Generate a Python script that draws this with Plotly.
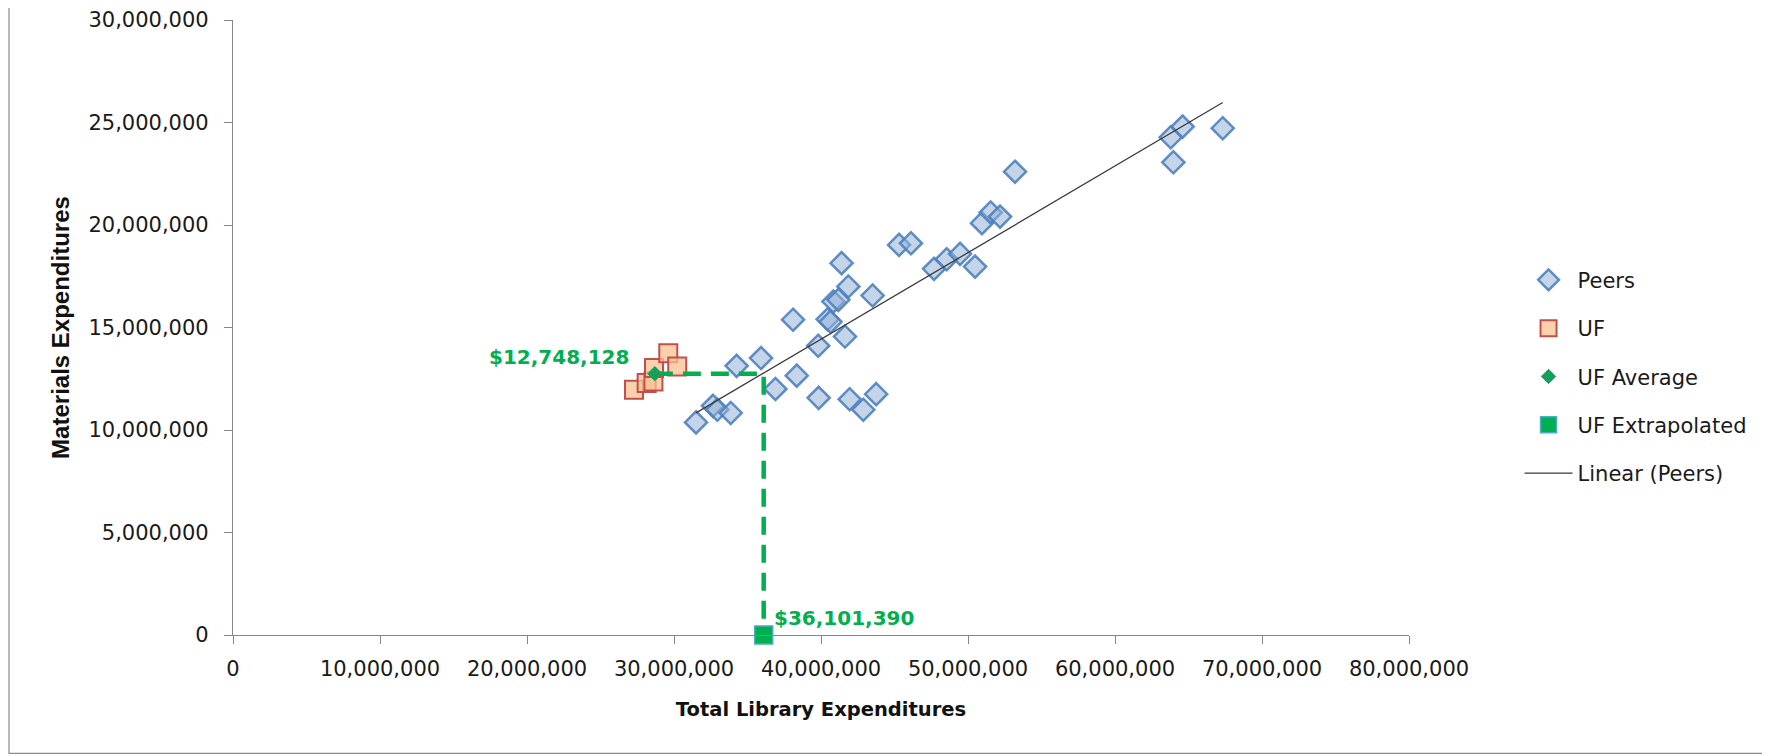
import numpy as np
import plotly.graph_objects as go

# ---- data ----
peers_total = [31.50e6, 32.65e6, 32.95e6, 33.86e6, 34.26e6, 35.92e6, 36.90e6, 38.35e6, 38.10e6,
               39.81e6, 39.84e6, 40.45e6, 40.65e6, 41.63e6, 41.95e6, 42.88e6, 43.75e6, 40.84e6,
               41.18e6, 41.86e6, 41.40e6, 43.51e6, 45.31e6, 46.12e6, 47.69e6, 48.55e6, 49.46e6,
               50.48e6, 50.95e6, 51.54e6, 52.18e6, 53.20e6, 63.79e6, 63.97e6, 64.60e6, 67.33e6]
peers_materials = [10.37e6, 11.18e6, 10.99e6, 10.83e6, 13.13e6, 13.51e6, 12.00e6, 12.65e6, 15.38e6,
                   14.11e6, 11.57e6, 15.40e6, 15.28e6, 14.56e6, 11.50e6, 10.99e6, 11.75e6, 16.27e6,
                   16.35e6, 17.00e6, 18.14e6, 16.56e6, 19.03e6, 19.11e6, 17.86e6, 18.33e6, 18.59e6,
                   17.97e6, 20.09e6, 20.61e6, 20.41e6, 22.60e6, 24.28e6, 23.06e6, 24.80e6, 24.72e6]
uf_total = [27.28e6, 28.14e6, 28.60e6, 28.64e6, 29.61e6, 30.22e6]
uf_materials = [11.96e6, 12.29e6, 12.37e6, 13.02e6, 13.75e6, 13.10e6]
uf_avg_total = [28.70e6]
uf_avg_materials = [12748128]
uf_extrap_total = [36101390]
uf_extrap_materials = [0]

x_ticks = [0, 10e6, 20e6, 30e6, 40e6, 50e6, 60e6, 70e6, 80e6]
y_ticks = [0, 5e6, 10e6, 15e6, 20e6, 25e6, 30e6]

# ---- trend line (least squares on peers) ----
slope, intercept = np.polyfit(peers_total, peers_materials, 1)
trend_x = [min(peers_total), max(peers_total)]
trend_y = [slope * v + intercept for v in trend_x]

GREEN = "#00B050"
FONT = "DejaVu Sans"

W, H = 1762, 748
L, T, PW, PH = 225, 12, 1176, 615.5
R, B = W - L - PW, H - T - PH

def px(xf):
    return (xf - L) / PW

def py(yf):
    return (T + PH - yf) / PH

fig = go.Figure()

fig.add_trace(go.Scatter(
    x=peers_total, y=peers_materials, mode="markers", name="Peers",
    legendgroup="a",
    marker=dict(symbol="diamond", size=17, color="rgba(149,179,215,0.55)",
                line=dict(color="rgba(79,129,189,0.9)", width=2.5)),
))
fig.add_trace(go.Scatter(
    x=uf_total, y=uf_materials, mode="markers", name="UF",
    legendgroup="b",
    marker=dict(symbol="square", size=18, color="rgba(250,192,144,0.75)",
                line=dict(color="#C0504D", width=2)),
))
# dashed guide lines
fig.add_trace(go.Scatter(
    x=[uf_avg_total[0], uf_extrap_total[0], uf_extrap_total[0]],
    y=[uf_avg_materials[0], uf_avg_materials[0], uf_extrap_materials[0]],
    mode="lines", showlegend=False, hoverinfo="skip",
    line=dict(color=GREEN, width=4.5, dash="18px,10px"),
))
fig.add_trace(go.Scatter(
    x=uf_avg_total, y=uf_avg_materials, mode="markers", name="UF Average",
    legendgroup="c",
    marker=dict(symbol="diamond", size=11, color="#15A05A",
                line=dict(color="#15A05A", width=1)),
))
fig.add_trace(go.Scatter(
    x=uf_extrap_total, y=uf_extrap_materials, mode="markers", name="UF Extrapolated",
    legendgroup="d", cliponaxis=False,
    marker=dict(symbol="square", size=18, color=GREEN,
                line=dict(color="#4BACC6", width=1.5)),
))
fig.add_trace(go.Scatter(
    x=trend_x, y=trend_y, mode="lines", name="Linear (Peers)",
    legendgroup="e",
    line=dict(color="#3a3a3a", width=1.3),
))

axis_common = dict(
    showline=True, linecolor="#868686", linewidth=1.2, automargin=False,
    ticks="outside", ticklen=8, tickcolor="#868686", tickwidth=1.2,
    showgrid=False, zeroline=False, tickformat=",d",
    tickfont=dict(family=FONT, size=21, color="#1a1a1a"),
)

fig.update_layout(
    width=W, height=H,
    margin=dict(l=L, r=R, t=T, b=B, pad=0, autoexpand=False),
    paper_bgcolor="white", plot_bgcolor="white",
    xaxis=dict(range=[0, 80e6], tickvals=x_ticks, ticklabelstandoff=7,
               title=dict(text="<b>Total Library Expenditures</b>", standoff=22,
                          font=dict(family=FONT, size=19.5, color="#111111")),
               **axis_common),
    yaxis=dict(range=[0, 30e6], tickvals=y_ticks, ticklabelstandoff=11,
               title=dict(text="<b>Materials Expenditures</b>", standoff=12,
                          font=dict(family="Liberation Sans", size=24, color="#111111")),
               **axis_common),
    legend=dict(x=1.094, xanchor="left", y=0.42, yanchor="middle",
                traceorder="grouped", tracegroupgap=18, itemwidth=48,
                font=dict(family=FONT, size=21, color="#1a1a1a"),
                bgcolor="rgba(0,0,0,0)"),
    showlegend=True,
    annotations=[
        dict(x=uf_avg_total[0], y=uf_avg_materials[0], xref="x", yref="y",
             text=f"<b>${uf_avg_materials[0]:,.0f}</b>", showarrow=False,
             xanchor="right", yanchor="middle", xshift=-24, yshift=17,
             font=dict(family=FONT, size=20, color=GREEN)),
        dict(x=uf_extrap_total[0], y=uf_extrap_materials[0], xref="x", yref="y",
             text=f"<b>${uf_extrap_total[0]:,.0f}</b>", showarrow=False,
             xanchor="left", yanchor="middle", xshift=8, yshift=17,
             font=dict(family=FONT, size=20, color=GREEN)),
    ],
    shapes=[dict(type="rect", xref="paper", yref="paper",
                 x0=px(1), x1=px(W - 1), y0=py(H - 2), y1=py(-15),
                 line=dict(color="#8c8c8c", width=1.2), fillcolor="rgba(0,0,0,0)",
                 layer="below")],
)

fig.write_html("out.html")
